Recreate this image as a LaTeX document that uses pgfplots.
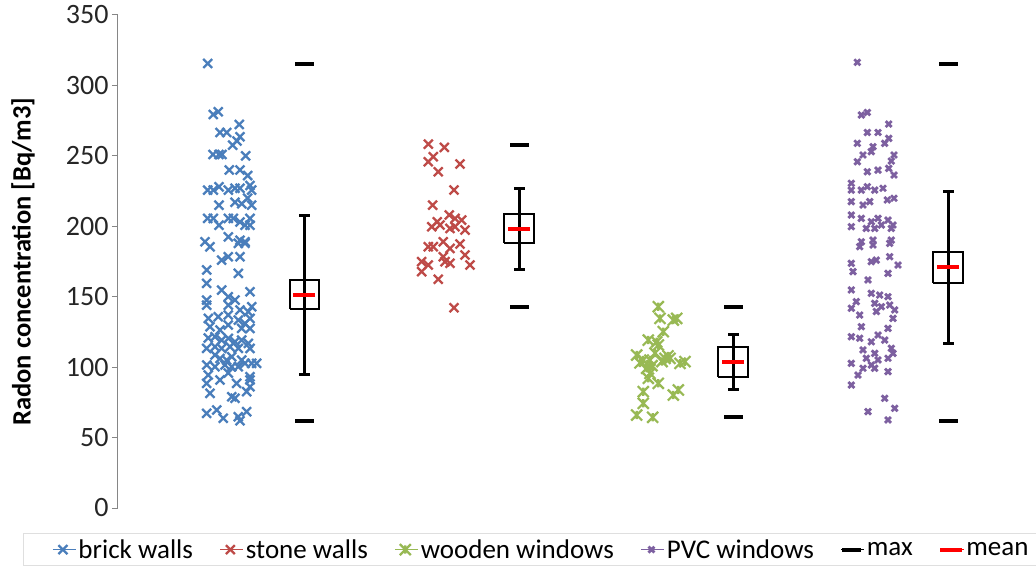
\documentclass[border=0pt]{standalone}
\usepackage{pgfplots}
\pgfplotsset{compat=1.18}
\usepackage{pgfplotstable}
\usepackage{fontspec}
\setmainfont{Carlito}
\definecolor{cbrick}{HTML}{4A7EBB}
\definecolor{cstone}{HTML}{BE4B48}
\definecolor{cwood}{HTML}{98B954}
\definecolor{cpvc}{HTML}{7D60A0}
\definecolor{caxis}{HTML}{868686}
\pgfdeclareplotmark{xstar}{%
  \pgfpathmoveto{\pgfqpoint{-\pgfplotmarksize}{-\pgfplotmarksize}}%
  \pgfpathlineto{\pgfqpoint{\pgfplotmarksize}{\pgfplotmarksize}}%
  \pgfpathmoveto{\pgfqpoint{-\pgfplotmarksize}{\pgfplotmarksize}}%
  \pgfpathlineto{\pgfqpoint{\pgfplotmarksize}{-\pgfplotmarksize}}%
  \pgfpathmoveto{\pgfqpoint{0pt}{-0.75\pgfplotmarksize}}%
  \pgfpathlineto{\pgfqpoint{0pt}{0.75\pgfplotmarksize}}%
  \pgfusepathqstroke}
\pgfplotstableread{
x y
207.7 315.6
213.3 279.4
218.3 281.3
220 266.6
226.7 266.6
239.3 272.3
237 260.5
240 263.5
213 251
219 251
222 251
232.7 257.6
245.7 250
229.3 240
240 240
247.7 236
207.7 225.7
213.3 225.7
219 228
228.3 225.7
235 227
240 227
250 229
251.7 225.7
219 215
235 217
241.7 216
247.7 220
251.7 215
207.7 205.6
213.3 205.6
228.3 205.6
233.3 205.6
240 203
250 205.6
219 200.8
245 200.8
250 200.8
205 189
228.3 192.5
240 190
245 189
210 185.4
238.3 187.9
245 187.9
221.7 176
228.3 178.4
240 178.4
206.7 169
238.3 166.6
206.7 159.5
221.7 154.7
228.3 150
235 147.6
250 153.5
228.3 144
206.7 147.6
206.7 144
240 140.5
248.3 139.3
251.7 142.9
208.3 134.6
218.3 135.8
228.3 137
238.3 133.4
245 131
250 134.6
210 128.7
220 126.3
228.3 129.9
241.7 127.5
250 127.5
208.3 120.7
215 121.6
221.7 119.2
228.3 120.4
235 118
241.7 119.2
248.3 116.9
206.7 113.3
215 114.5
221.7 113.3
230 114.5
238.3 113.3
250 113.3
215 108.6
220 106.2
226.7 105
231.7 107.4
241.7 105
245 102.7
251.7 102.7
256.7 102.7
206.7 101.5
215 100.3
225 101.5
231.7 100.3
238.3 100.3
208.3 94.4
228.3 95.8
250 93.2
206.7 88.5
220 90.9
236.7 88.5
250 90.9
210 81.4
235 77.9
246.7 82.6
231.7 79
250 86.1
206.7 67.2
216.7 69.6
223.3 63.7
238.3 64.8
246.7 68.4
240 62
}\brick
\pgfplotstableread{
x y
428.3 258.3
444.3 256
433.3 249.4
428.3 245.8
460 244.2
438.3 238.7
454 225.7
432.7 215
449.3 208
437.3 203.2
455 205.6
461.7 204.4
431.7 199.7
440 200.9
450 198.5
465 197.3
455 199.7
428.3 185.5
433.3 185.5
443.3 189
450 184.3
460 187.4
443.3 178.4
465 179.6
470 172.5
445 174.9
450 173.7
421.7 174.9
428.3 172.5
421.7 167.8
438.3 162.4
454 142.2
}\stone
\pgfplotstableread{
x y
658.3 142.9
660 134.6
673.3 133.4
676.7 134.6
663.3 125.2
648.3 119.2
656.7 118
658.3 115.7
636.7 108.6
643.3 105
650 105
665 106.2
670 106.2
680 102.7
685 103.9
646.7 99.2
650 95.6
648.3 92.1
658.3 88.5
643.3 82.6
678.3 83.8
673.3 80.2
643.3 74.3
636.7 66
652.7 64.4
655 110
662 104
668 108
640 103
652 101
}\wood
\pgfplotstableread{
x y
857.3 316.4
861.3 279
867.3 280.8
867.3 266.6
878 266.6
888.7 272.6
857.3 258.9
873 256.5
884.7 258.9
888.7 262.4
863 250.6
871.3 253
894 250.6
891.3 246.3
857.3 245.8
867.3 238.7
878 239.9
888.7 241.1
894 236.4
851.3 230.5
851.3 225.7
861.3 225.7
867.3 228.1
874.7 225.7
883 227
894 219.9
887.3 218.7
851.3 217.5
863 215.1
869.7 217.5
851.3 208
861.3 205.6
871.3 203.2
878 205.6
888 204.4
893 200.9
851.3 199.7
866.3 198.5
874.7 198.5
881.3 200.9
891.3 198.5
861.3 189
873 190.2
891.3 190.2
859.7 185.5
873 186.7
889.7 187.9
851.3 173.7
853 167.8
871.3 174.9
876.3 176
889.7 178.4
898 172.5
888 166.6
868 161.9
851.3 154.8
856.3 146.5
871.3 152.4
879.7 151.2
888 150
874.7 145.3
881.3 142.9
889.7 144.1
894.7 140.6
851.3 141.8
859.7 137
861.3 128.7
876.3 139.5
893 134.6
888 127.5
851.3 121.6
859.7 120.5
871.3 118
878 122.8
884.7 119.2
863 112.2
874.7 109.8
891.3 113.4
893 109.8
888 106.3
851.3 102.7
866.3 106.3
871.3 101.5
878 105.1
863 99.2
874.7 99.2
858 94.4
851.3 87.3
888 96.8
884.7 77.9
894.7 70.8
868 68.4
888 62.5
}\pvc
\begin{document}
\begin{tikzpicture}
\useasboundingbox (-118pt,-63pt) rectangle (918pt,508pt);
\begin{axis}[
  scale only axis, width=918pt, height=493pt,
  xmin=118, xmax=1036, ymin=0, ymax=350,
  axis x line=none, axis y line=left,
  axis line style={-, draw=caxis, line width=1pt},
  ytick={0,50,...,350},
  y tick style={draw=caxis, line width=1pt},
  tick align=outside, major tick length=6pt,
  /pgf/number format/assume math mode=true,
  yticklabel style={font=\fontsize{28}{32}\selectfont, text=black!85},
  ylabel={Radon concentration [Bq/m3]},
  ylabel style={font=\bfseries\fontsize{26.5}{30}\selectfont, at={(axis description cs:-0.1035,0.5)}, anchor=center},
  clip=false,
  legend columns=-1,
  legend style={at={(axis description cs:-0.1035,-0.0507)}, anchor=north west, overlay,
    draw=gray!25, line width=1pt, font=\fontsize{27}{31}\selectfont,
    inner xsep=29pt, inner ysep=4pt,
    /tikz/every even column/.append style={column sep=25pt}},
  legend image code/.code={\path (0pt,0pt) -- (23pt,0pt); \draw[mark repeat=2,mark phase=2] plot coordinates {(0pt,0pt)(10pt,0pt)(20pt,0pt)};},
]
\addplot[black, line width=2pt, forget plot] coordinates {(289.5,141)(318.5,141)(318.5,162)(289.5,162)(289.5,141)};
\addplot[black, line width=2pt, forget plot] coordinates {(504,188)(534,188)(534,209)(504,209)(504,188)};
\addplot[black, line width=2pt, forget plot] coordinates {(718,93)(748,93)(748,114)(718,114)(718,93)};
\addplot[black, line width=2pt, forget plot] coordinates {(933,160)(963,160)(963,182)(933,182)(933,160)};
\addplot[black, line width=3pt, forget plot] coordinates {(304,94.5)(304,208)};
\addplot[black, line width=3pt, forget plot] coordinates {(519,169)(519,227)};
\addplot[black, line width=3pt, forget plot] coordinates {(733,84)(733,123.5)};
\addplot[black, line width=3pt, forget plot] coordinates {(948,117)(948,225)};
\addplot[only marks, mark=-, mark size=5.5pt, mark options={line width=3pt, black}, forget plot] coordinates {(304,94.5)(304,208)(519,169)(519,227)(733,84)(733,123.5)(948,117)(948,225)};
\addplot[only marks, mark=x, mark size=6.3pt, mark options={line width=2.3pt, draw=cbrick}, color=cbrick] table {\brick};
\addlegendentry{brick walls}
\addplot[only marks, mark=x, mark size=6.3pt, mark options={line width=2.3pt, draw=cstone}, color=cstone] table {\stone};
\addlegendentry{stone walls}
\addplot[only marks, mark=xstar, mark size=5.5pt, mark options={line width=2.2pt, draw=cwood}, color=cwood] table {\wood};
\addlegendentry{wooden windows}
\addplot[only marks, mark=x, mark size=4.2pt, mark options={line width=2.8pt, draw=cpvc}, color=cpvc] table {\pvc};
\addlegendentry{PVC windows}
\addplot[only marks, mark=-, mark size=9.5pt, mark options={line width=4pt, draw=black}, color=black] coordinates {(304,315)(304,62)(519,258)(519,143)(733,143)(733,64.6)(948,315)(948,62)};
\addlegendentry{max}
\addplot[only marks, mark=-, mark size=11pt, mark options={line width=4pt, draw=red}, color=red] coordinates {(304,151)(519,198)(733,103.6)(948,171)};
\addlegendentry{mean}
\end{axis}
\end{tikzpicture}
\end{document}
